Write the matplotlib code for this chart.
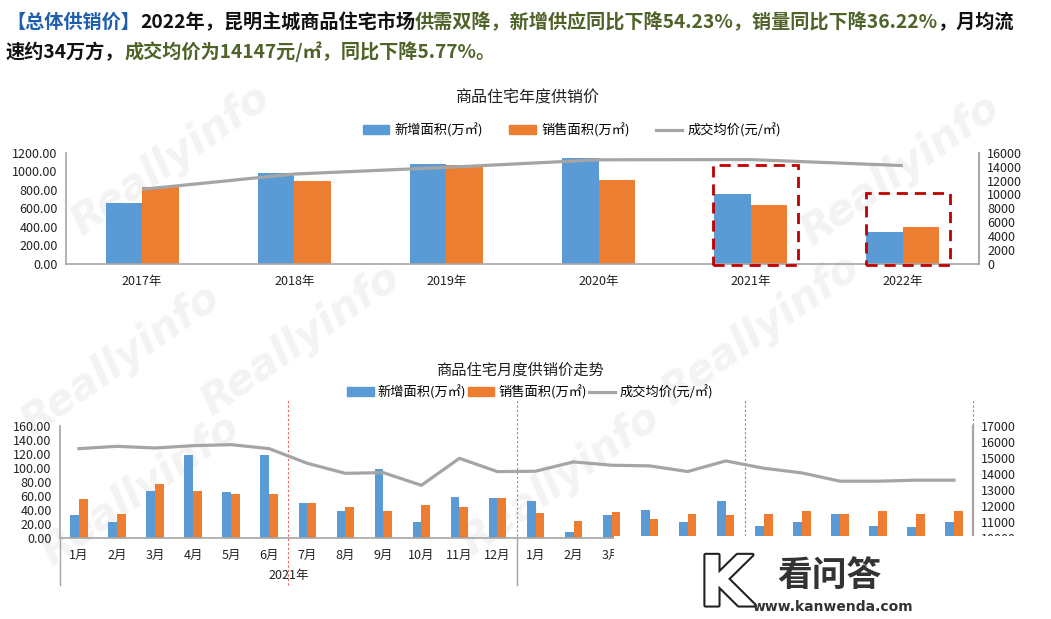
import numpy as np
import matplotlib.pyplot as plt
import matplotlib.patheffects as pe
from matplotlib.patches import Rectangle, Patch
from matplotlib.lines import Line2D

plt.rcParams['font.family'] = ['Noto Sans CJK SC', 'DejaVu Sans']

# yearly data
years = ['2017年', '2018年', '2019年', '2020年', '2021年', '2022年']
year_supply = [661, 984, 1078, 1139, 751, 344]
year_sales = [827, 898, 1064, 905, 632, 403]
year_price = [10730, 12930, 13890, 14980, 15013, 14147]

# monthly data, 2021-01 .. 2022-12
months = ['1月', '2月', '3月', '4月', '5月', '6月',
          '7月', '8月', '9月', '10月', '11月', '12月'] * 2
month_supply = [33, 22, 67, 118.5, 65, 118.5, 49, 38, 99, 22, 59, 57,
                52.5, 8.6, 33, 40, 23, 52.5, 17, 23, 34, 17, 15.8, 23]
month_sales = [55, 34, 77, 67, 62.6, 62.6, 49, 44, 38, 47, 44, 57,
               35.3, 24.4, 36.3, 26.7, 34, 33, 34, 37.7, 34, 37.7, 34, 38.7]
month_price = [15580, 15727, 15622, 15768, 15830, 15580, 14662, 14035, 14077, 13284, 14975, 14140,
               14167, 14750, 14542, 14500, 14146, 14812, 14354, 14062, 13542, 13542, 13604, 13604]
group_years = ['2021年']   # the 2022 group label is hidden under the site logo

BLUE = '#5B9BD5'
ORANGE = '#ED7D31'
GRAY = '#A5A5A5'
RED = '#C00000'
GREEN = '#4F6228'
HEAD_BLUE = '#1F5FAD'

W, H = 1051, 619
fig = plt.figure(figsize=(W / 100, H / 100), dpi=100)


def px_axes(x0, y0, x1, y1):
    # pixel box (top-left origin) -> figure fraction
    return [x0 / W, 1 - y1 / H, (x1 - x0) / W, (y1 - y0) / H]


# faint watermarks behind everything
wm = [(170, 160), (900, 170), (120, 360), (300, 340), (760, 330),
      (560, 480), (140, 490)]
for (wx, wy) in wm:
    fig.text(wx / W, 1 - wy / H, 'Reallyinfo', fontsize=30, fontweight='bold',
             style='italic', color='#f3f3f3', rotation=35, ha='center',
             va='center', zorder=-5, family='DejaVu Sans')

# ---------------- header text ----------------
head1 = [('【总体供销价】', HEAD_BLUE), ('2022年，昆明主城商品住宅市场', '#111111'),
         ('供需双降，新增供应同比下降54.23%，销量同比下降36.22%', GREEN), ('，月均流', '#111111')]
head2 = [('速约34万方，', '#111111'), ('成交均价为14147元/㎡，同比下降5.77%。', GREEN)]
for line, ypix in [(head1, 32), (head2, 62)]:
    prev = None
    for s, c in line:
        if prev is None:
            prev = fig.text(6 / W, 1 - ypix / H, s, color=c, fontsize=13.8,
                            fontweight='bold', ha='left', va='bottom')
        else:
            prev = fig.add_artist(plt.Annotation(s, xy=(1, 0), xycoords=prev,
                                                 color=c, fontsize=13.8, fontweight='bold',
                                                 ha='left', va='bottom'))

# ---------------- top chart ----------------
ax = fig.add_axes(px_axes(66, 152.7, 979, 264))
ax.set_facecolor('none')
x = np.arange(len(years))
w = 0.24
ax.bar(x - w / 2, year_supply, w, color=BLUE, zorder=2)
ax.bar(x + w / 2, year_sales, w, color=ORANGE, zorder=2)
ax.set_xlim(-0.5, len(years) - 0.5)
ax.set_ylim(0, 1200)
ax.set_yticks(np.arange(0, 1201, 200))
ax.set_yticklabels(['%.2f' % v for v in np.arange(0, 1201, 200)])
ax.set_xticks(x)
ax.set_xticklabels(years)
ax.tick_params(length=0, labelsize=9, colors='#222222')
ax.tick_params(axis='x', pad=8)
ax.tick_params(axis='y', pad=6)
ax.spines['top'].set_visible(False)
for sp in ['left', 'bottom', 'right']:
    ax.spines[sp].set_color('#A6A6A6')
    ax.spines[sp].set_linewidth(1.2)

ax2 = ax.twinx()
ax2.plot(x, year_price, color=GRAY, lw=2.3, solid_capstyle='butt')
ax2.set_ylim(0, 16000)
ax2.set_yticks(np.arange(0, 16001, 2000))
ax2.tick_params(length=0, labelsize=9, colors='#222222', pad=6)
for sp in ['top', 'left', 'bottom']:
    ax2.spines[sp].set_visible(False)
ax2.spines['right'].set_color('#A6A6A6')
ax2.spines['right'].set_linewidth(1.2)

# highlight boxes on 2021 and 2022
for i, top in [(4, 1067), (5, 765)]:
    ax.add_patch(Rectangle((i - 0.245, -10), 0.555, top + 10, fill=False,
                           edgecolor=RED, lw=2.0, ls=(0, (4, 2.5)),
                           clip_on=False, zorder=5))

fig.text(527 / W, 1 - 98 / H, '商品住宅年度供销价', fontsize=11.5, color='#222222',
         ha='center', va='center')
h_top = [Patch(color=BLUE, label='新增面积(万㎡)'),
         Patch(color=ORANGE, label='销售面积(万㎡)'),
         Line2D([], [], color=GRAY, lw=2.3, label='成交均价(元/㎡)')]
fig.legend(handles=h_top, loc='center', bbox_to_anchor=(572 / W, 1 - 130 / H),
           ncol=3, frameon=False, fontsize=9.5, handlelength=2.0, handleheight=0.6,
           columnspacing=2.0, handletextpad=0.4)

# ---------------- bottom chart ----------------
bx = fig.add_axes(px_axes(60, 426, 973, 537.7))
bx.set_facecolor('none')
mx = np.arange(len(months))
mw = 0.23
bx.bar(mx - mw / 2, month_supply, mw, color=BLUE, zorder=2)
bx.bar(mx + mw / 2, month_sales, mw, color=ORANGE, zorder=2)
bx.set_xlim(-0.5, len(months) - 0.5)
bx.set_ylim(0, 160)
bx.set_yticks(np.arange(0, 161, 20))
bx.set_yticklabels(['%.2f' % v for v in np.arange(0, 161, 20)])
bx.set_xticks(mx)
bx.set_xticklabels(months)
bx.tick_params(length=0, labelsize=9, colors='#222222')
bx.tick_params(axis='x', pad=8)
bx.tick_params(axis='y', pad=6)
bx.spines['top'].set_visible(False)
bx.spines['right'].set_visible(False)
for sp in ['left', 'bottom']:
    bx.spines[sp].set_color('#A6A6A6')
    bx.spines[sp].set_linewidth(1.2)
# month labels after 2022-03 sit under the logo in the source
for lab in bx.get_xticklabels()[15:]:
    lab.set_visible(False)

bx2 = bx.twinx()
bx2.plot(mx, month_price, color=GRAY, lw=2.3)
bx2.set_ylim(10000, 17000)
bx2.set_yticks(np.arange(10000, 17001, 1000))
bx2.tick_params(length=0, labelsize=9, colors='#222222', pad=6)
for sp in ['top', 'left', 'bottom']:
    bx2.spines[sp].set_visible(False)
bx2.spines['right'].set_color('#A6A6A6')
bx2.spines['right'].set_linewidth(1.6)

# half-year dashed separators and year grouping lines
for xs in [5.5, 11.5, 17.5, 23.5]:
    bx.plot([xs, xs], [-0.42, 1.23], transform=bx.get_xaxis_transform(),
            color='#E06666', lw=0.8, ls=(0, (2, 2)), clip_on=False, zorder=1)
for xs in [-0.5, 11.5, 23.5]:
    bx.plot([xs, xs], [0, -0.42], transform=bx.get_xaxis_transform(),
            color='#A6A6A6', lw=1.0, clip_on=False)
for k, gy in enumerate(group_years):
    bx.text(5.5 + 12 * k, -0.34, gy, transform=bx.get_xaxis_transform(),
            fontsize=9, color='#222222', ha='center', va='center')

fig.text(520 / W, 1 - 370 / H, '商品住宅月度供销价走势', fontsize=11, color='#222222',
         ha='center', va='center')
h_bot = [Patch(color=BLUE, label='新增面积(万㎡)'),
         Patch(color=ORANGE, label='销售面积(万㎡)'),
         Line2D([], [], color=GRAY, lw=2.3, label='成交均价(元/㎡)')]
fig.legend(handles=h_bot, loc='center', bbox_to_anchor=(530 / W, 1 - 392 / H),
           ncol=3, frameon=False, fontsize=9.5, handlelength=2.0, handleheight=0.6,
           columnspacing=0.15, handletextpad=0.3)

# site logo pasted over the lower right corner
fig.add_artist(Rectangle((614 / W, 0), 1 - 614 / W, (H - 536) / H,
                         transform=fig.transFigure, facecolor='white',
                         edgecolor='none', zorder=20))
fig.text(726 / W, 1 - 586 / H, 'K', fontsize=50, fontweight='bold', color='white',
         ha='center', va='center', zorder=21, family='DejaVu Sans',
         path_effects=[pe.Stroke(linewidth=3, foreground='#222222'), pe.Normal()])
fig.text(829 / W, 1 - 575 / H, '看问答', fontsize=25, fontweight='bold',
         color='#333333', ha='center', va='center', zorder=21)
fig.text(833 / W, 1 - 607 / H, 'www.kanwenda.com', fontsize=10, fontweight='bold',
         color='#333333', ha='center', va='center', zorder=21, family='DejaVu Sans')

fig.savefig('out.png', dpi=100, facecolor='white')
